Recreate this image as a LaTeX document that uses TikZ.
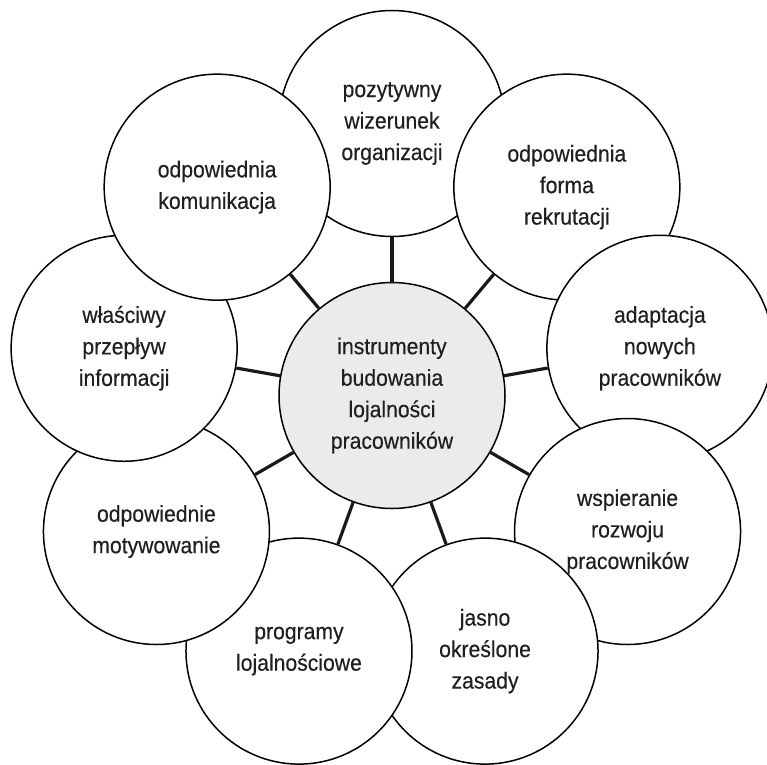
\documentclass[tikz,border=0pt]{standalone}
\usepackage{fontspec}
\setmainfont{Liberation Sans}[FakeStretch=0.92,FakeBold=0.3]
\begin{document}
\begin{tikzpicture}[x=1pt,y=-1pt,
  bubble/.style={circle,draw=black,line width=1.5pt,fill=white,minimum size=226pt,inner sep=0pt,
    align=center,text=black!88,font=\fontsize{23}{31.5}\selectfont},
  hub/.style={bubble,fill=black!8},
  conn/.style={line width=3.2pt,draw=black!90}]
\clip (0,0) rectangle (767,764);
\useasboundingbox (0,0) rectangle (767,764);
\def\R{272}
\node[bubble] (o1) at ({392+\R*cos(90)},{395.5-\R*sin(90)}) {pozytywny\\wizerunek\\organizacji};
\node[bubble] (o2) at ({392+\R*cos(50)},{395.5-\R*sin(50)}) {odpowiednia\\forma\\rekrutacji};
\node[bubble] (o3) at ({392+\R*cos(10)},{395.5-\R*sin(10)}) {adaptacja\\nowych\\pracowników};
\node[bubble] (o4) at ({392+\R*cos(-30)},{395.5-\R*sin(-30)}) {wspieranie\\rozwoju\\pracowników};
\node[bubble] (o5) at ({392+\R*cos(-70)},{395.5-\R*sin(-70)}) {jasno\\określone\\zasady};
\node[bubble] (o6) at ({392+\R*cos(-110)},{395.5-\R*sin(-110)}) {programy\\lojalnościowe};
\node[bubble] (o7) at ({392+\R*cos(-150)},{395.5-\R*sin(-150)}) {odpowiednie\\motywowanie};
\node[bubble] (o8) at ({392+\R*cos(170)},{395.5-\R*sin(170)}) {właściwy\\przepływ\\informacji};
\node[bubble] (o9) at ({392+\R*cos(130)},{395.5-\R*sin(130)}) {odpowiednia\\komunikacja};
\node[hub] (c) at (392,395.5) {instrumenty\\budowania\\lojalności\\pracowników};
\foreach \i in {1,...,9} {\draw[conn] (c) -- (o\i);}
\end{tikzpicture}
\end{document}
